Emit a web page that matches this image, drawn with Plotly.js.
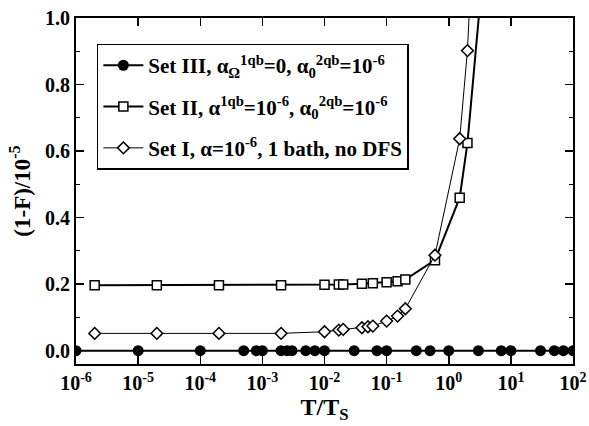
<!DOCTYPE html>
<html>
<head>
<meta charset="utf-8">
<script src="https://cdn.plot.ly/plotly-3.0.1.min.js"></script>
<style>html,body{margin:0;padding:0;background:#fff;}#chart{width:589px;height:426px;}</style>
</head>
<body>
<div id="chart"></div>
<script>
// Set III (filled circles)
const set3X = [1e-6, 1e-5, 1e-4, 5e-4, 8e-4, 1e-3, 2e-3, 2.5e-3, 3e-3, 5e-3, 7e-3, 1e-2, 3e-2, 7e-2, 0.1, 0.3, 0.5, 1, 3, 7, 10, 30, 50, 70, 100];
const set3Y = [0, 0, 0, 0, 0, 0, 0, 0, 0, 0, 0, 0, 0, 0, 0, 0, 0, 0, 0, 0, 0, 0, 0, 0, 0];
// Set II (open squares)
const set2X = [2e-6, 2e-5, 2e-4, 2e-3, 1e-2, 1.7e-2, 2e-2, 4e-2, 6e-2, 0.1, 0.15, 0.2, 0.6, 1.5, 2, 5];
const set2Y = [0.197, 0.197, 0.197, 0.197, 0.198, 0.199, 0.199, 0.201, 0.203, 0.206, 0.209, 0.214, 0.272, 0.46, 0.624, 1.45];
// Set I (open diamonds)
const set1X = [2e-6, 2e-5, 2e-4, 2e-3, 1e-2, 1.7e-2, 2e-2, 4e-2, 5e-2, 6e-2, 0.1, 0.15, 0.2, 0.6, 1.5, 2, 3];
const set1Y = [0.052, 0.052, 0.052, 0.052, 0.057, 0.062, 0.064, 0.069, 0.072, 0.074, 0.089, 0.104, 0.126, 0.287, 0.637, 0.902, 1.59];
// tick labels
const xTickVals = [1e-6, 1e-5, 1e-4, 1e-3, 1e-2, 1e-1, 1, 10, 100];
const xTickText = ['10<sup>-6</sup>', '10<sup>-5</sup>', '10<sup>-4</sup>', '10<sup>-3</sup>', '10<sup>-2</sup>', '10<sup>-1</sup>', '10<sup>0</sup>', '10<sup>1</sup>', '10<sup>2</sup>'];
const yTickVals = [0, 0.2, 0.4, 0.6, 0.8, 1.0];
const yTickText = ['0.0', '0.2', '0.4', '0.6', '0.8', '1.0'];
const names = [
  'Set III, α<sub>Ω</sub><sup>1qb</sup>=0, α<sub>0</sub><sup>2qb</sup>=10<sup>-6</sup>',
  'Set II, α<sup>1qb</sup>=10<sup>-6</sup>, α<sub>0</sub><sup>2qb</sup>=10<sup>-6</sup>',
  'Set I, α=10<sup>-6</sup>, 1 bath, no DFS'
];

const serif = '"Liberation Serif", "Times New Roman", Times, serif';

const traces = [
  {x: set3X, y: set3Y, name: names[0], legendgroup: 'a', type: 'scatter', mode: 'lines+markers',
   line: {color: '#000', width: 2}, marker: {symbol: 'circle', size: 11, color: '#000'}},
  {x: set2X, y: set2Y, name: names[1], legendgroup: 'b', type: 'scatter', mode: 'lines+markers',
   line: {color: '#000', width: 2}, marker: {symbol: 'square', size: 9, color: '#fff', line: {color: '#000', width: 1.5}}},
  {x: set1X, y: set1Y, name: names[2], legendgroup: 'c', type: 'scatter', mode: 'lines+markers',
   line: {color: '#000', width: 1}, marker: {symbol: 'diamond', size: 9, color: '#fff', line: {color: '#000', width: 1.5}}}
];

const layout = {
  width: 589, height: 426,
  margin: {l: 76, r: 16, t: 17.5, b: 62},
  paper_bgcolor: '#fff', plot_bgcolor: '#fff',
  font: {family: serif, color: '#000'},
  showlegend: true,
  legend: {
    x: 0.042, y: 0.926, xanchor: 'left', yanchor: 'top',
    bordercolor: '#000', borderwidth: 1.5, bgcolor: '#fff',
    font: {family: serif, size: 21, color: '#000', weight: 'bold'},
    tracegroupgap: 11, traceorder: 'grouped', itemwidth: 40
  },
  xaxis: {
    type: 'log', range: [-6, 2],
    tickvals: xTickVals, ticktext: xTickText,
    ticks: 'inside', ticklen: 8, tickwidth: 1.5, tickcolor: '#000',
    showline: true, linecolor: '#000', linewidth: 2, mirror: 'ticks',
    showgrid: false, zeroline: false,
    tickfont: {family: serif, size: 20, color: '#000', weight: 'bold'},
    title: {text: 'T/T<sub>S</sub>', font: {family: serif, size: 24, color: '#000', weight: 'bold'}, standoff: 2}
  },
  yaxis: {
    range: [-0.04, 1.0],
    tickvals: yTickVals, ticktext: yTickText,
    ticks: 'inside', ticklen: 8, tickwidth: 1.5, tickcolor: '#000',
    minor: {dtick: 0.1, tick0: 0, ticks: 'inside', ticklen: 4, tickwidth: 1, tickcolor: '#000'},
    showline: true, linecolor: '#000', linewidth: 2, mirror: 'ticks',
    showgrid: false, zeroline: false,
    tickfont: {family: serif, size: 20, color: '#000', weight: 'bold'},
    title: {text: '(1-F)/10<sup>-5</sup>', font: {family: serif, size: 23, color: '#000', weight: 'bold'}, standoff: 8}
  }
};

Plotly.newPlot('chart', traces, layout, {displayModeBar: false, staticPlot: true});
</script>
</body>
</html>
